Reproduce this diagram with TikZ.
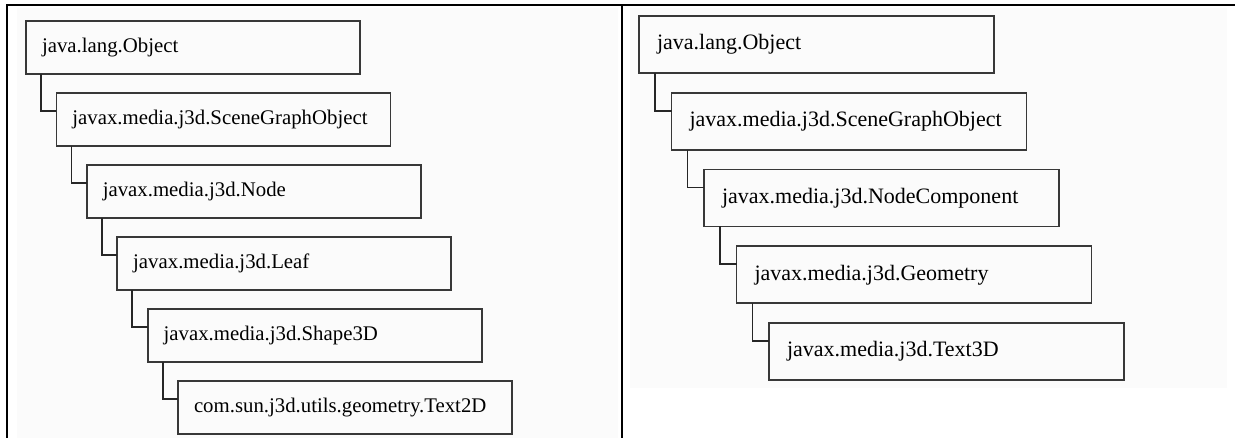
\documentclass[tikz,border=0pt]{standalone}
\usepackage{fontspec}
\setmainfont{Liberation Serif}
\usetikzlibrary{positioning}

\begin{document}
\begin{tikzpicture}[x=1pt,y=-1pt,
    cls/.style={draw=black!78,line width=1.8pt,anchor=north west,outer sep=0pt,
      minimum height=53pt,text width=302pt,inner xsep=16pt,inner ysep=0pt,
      align=left,font=\fontsize{20.8}{24}\selectfont},
    bigcls/.style={cls,minimum height=57pt,text width=319pt,inner xsep=18pt,
      font=\fontsize{22}{26}\selectfont},
    link/.style={draw=black!85,line width=1.8pt}]
  \useasboundingbox (0,0) rectangle (1235,438);
  \fill[black!1.5] (17,8) rectangle (618,438);
  \fill[black!1.5] (630,8) rectangle (1227,388);
  \draw[line width=2.4pt] (7,438) -- (7,5) -- (1235,5);
  \draw[line width=2.4pt] (622,5) -- (622,438);

  % left: Text2D
  \node[cls] (lobj) at (26,21) {java.lang.Object};
  \node[cls,below right=19pt and 30.4pt of lobj.south west] (lsgo) {javax.media.j3d.SceneGraphObject};
  \node[cls,below right=19pt and 30.4pt of lsgo.south west] (lnode) {javax.media.j3d.Node};
  \node[cls,below right=19pt and 30.4pt of lnode.south west] (lleaf) {javax.media.j3d.Leaf};
  \node[cls,below right=19pt and 30.4pt of lleaf.south west] (lshape) {javax.media.j3d.Shape3D};
  \node[cls,below right=19pt and 30.4pt of lshape.south west] (ltext) {com.sun.j3d.utils.geometry.Text2D};
  \foreach \p/\c in {lobj/lsgo,lsgo/lnode,lnode/lleaf,lleaf/lshape,lshape/ltext}
    \draw[link] (\p.south west) ++(15pt,0) |- ([yshift=-18pt]\c.north west);

  % right: Text3D
  \node[bigcls] (robj) at (639,16) {java.lang.Object};
  \node[bigcls,below right=19.75pt and 32.5pt of robj.south west] (rsgo) {javax.media.j3d.SceneGraphObject};
  \node[bigcls,below right=19.75pt and 32.5pt of rsgo.south west] (rcomp) {javax.media.j3d.NodeComponent};
  \node[bigcls,below right=19.75pt and 32.5pt of rcomp.south west] (rgeom) {javax.media.j3d.Geometry};
  \node[bigcls,below right=19.75pt and 32.5pt of rgeom.south west] (rtext) {javax.media.j3d.Text3D};
  \foreach \p/\c in {robj/rsgo,rsgo/rcomp,rcomp/rgeom,rgeom/rtext}
    \draw[link] (\p.south west) ++(16pt,0) |- ([yshift=-18pt]\c.north west);
\end{tikzpicture}
\end{document}
